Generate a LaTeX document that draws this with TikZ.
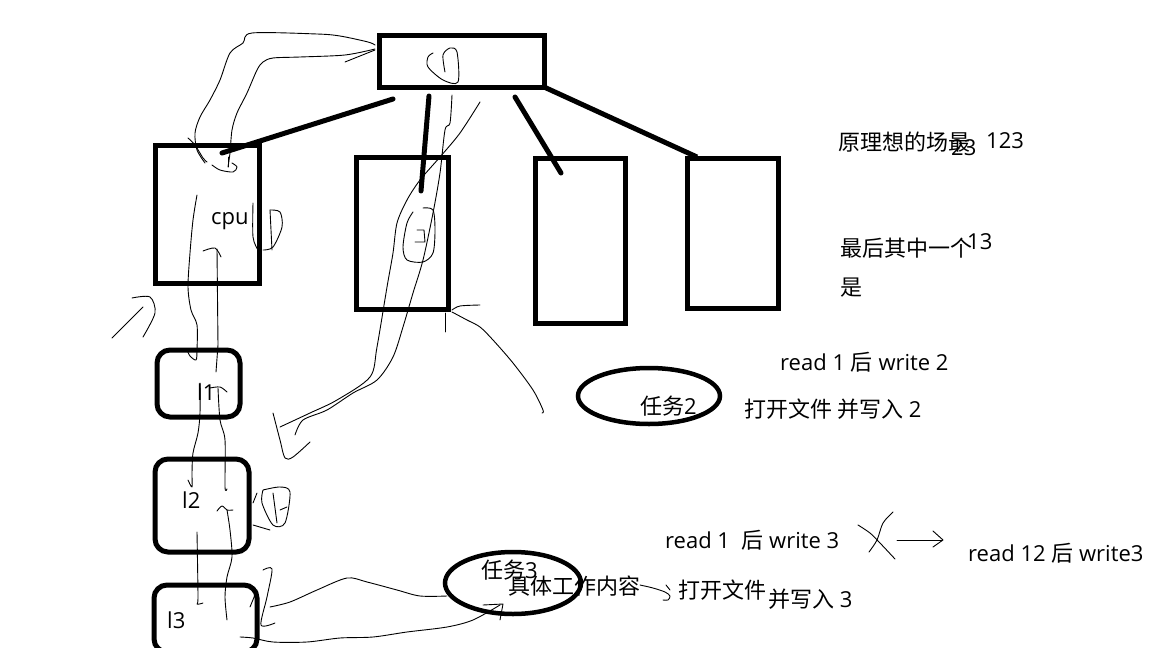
\documentclass[tikz,border=0pt]{standalone}
\usepackage{fontspec}
\setmainfont{Open Sans}
\newfontfamily\cjk{Noto Sans CJK SC}
\begin{document}
\begin{tikzpicture}[x=1pt,y=-1pt,
  box/.style={draw=black,line width=5pt},
  rbox/.style={draw=black,line width=5pt,rounded corners=13pt},
  link/.style={draw=black,line width=5pt,line cap=round},
  oval/.style={draw=black,line width=4.5pt},
  scrib/.style={draw=black,line width=0.9pt,line join=round,line cap=round},
  lab/.style={anchor=west,inner sep=0pt,font=\fontsize{22pt}{25pt}\selectfont}]
\fill[white] (0,0) rectangle (1152,648);
\useasboundingbox (0,0) rectangle (1152,648);

% boxes
\draw[box] (379,35) rectangle (544,87);
\draw[box] (155,145) rectangle (259,283);
\draw[box] (356,157) rectangle (448,309);
\draw[box] (535,158) rectangle (625,323);
\draw[box] (687,158) rectangle (778,308);

% thick connectors
\coordinate (t1) at (393,99); \coordinate (c1) at (222,153);
\coordinate (t2) at (429,96); \coordinate (c2) at (421,191);
\coordinate (t3) at (515,97); \coordinate (c3) at (561,173);
\coordinate (t4) at (544,87); \coordinate (c4) at (697,157);
\draw[link] (t1) -- (c1);
\draw[link] (t2) -- (c2);
\draw[link] (t3) -- (c3);
\draw[link,line cap=butt] (t4) -- (c4);

% rounded boxes
\draw[rbox] (157,350) rectangle (240,417);
\draw[rbox] (155,459) rectangle (249,552);
\draw[rbox] (154,585) rectangle (257,652);

% ellipses
\draw[oval] (649,396) ellipse [x radius=71,y radius=28];
\draw[oval] (513,583) ellipse [x radius=68,y radius=31];

% scribbles: top box to cpu
\draw[scrib] plot[smooth] coordinates {(375,45) (368,42) (340,36) (317,34) (252,33) (243,43) (230,53) (220,80) (210,100) (200,117) (195,133) (197,150) (205,163)};
\draw[scrib] plot[smooth] coordinates {(375,49) (345,55) (300,57) (273,58) (263,62) (257,70) (247,93) (237,113) (232,130) (230,153) (228,167)};
\draw[scrib] (345,62) -- (375,50);
\draw[scrib] plot[smooth] coordinates {(188,138) (195,145) (203,158) (207,162)};
\draw[scrib] plot[smooth] coordinates {(212,165) (220,170) (233,172) (237,167) (232,163)};
\draw[scrib] (228,157) -- (228,167);
% top box glyph
\draw[scrib] plot[smooth] coordinates {(433,53) (428,57) (428,67) (443,80) (458,82) (457,52) (450,48) (443,55) (445,72)};

% cpu down to l1
\draw[scrib] plot[smooth] coordinates {(197,195) (193,220) (190,253) (188,287) (191,310) (197,325) (197,350) (196,360) (190,356) (187,350)};
\draw[scrib] plot[smooth] coordinates {(203,251) (215,248) (221,257)};
\draw[scrib] (217,249) -- (218,345) -- (216,372);
% right of cpu
\draw[scrib] plot[smooth] coordinates {(253,203) (253,237) (258,250)};
\draw[scrib] plot[smooth] coordinates {(270,210) (280,212) (282,227) (273,247) (263,250)};
\draw[scrib] (270,210) -- (272,250);
% left small scribble
\draw[scrib] plot[smooth] coordinates {(112,338) (120,330) (143,307)};
\draw[scrib] plot[smooth] coordinates {(132,298) (150,297) (155,313) (143,337)};

% l1 to l2
\draw[scrib] plot[smooth] coordinates {(200,383) (200,413) (198,433) (193,453) (192,473) (192,487) (188,480)};
\draw[scrib] plot[smooth] coordinates {(210,388) (220,387) (227,392)};
\draw[scrib] plot[smooth] coordinates {(218,388) (220,420) (225,440) (225,487) (227,489)};
% l2 to l3
\draw[scrib] plot[smooth] coordinates {(217,511) (222,506) (227,510) (233,510)};
\draw[scrib] plot[smooth] coordinates {(227,510) (230,530) (232,557) (227,577) (225,597) (227,620)};
\draw[scrib] plot[smooth] coordinates {(197,532) (198,597) (197,604) (203,603)};
% right of l2
\draw[scrib] (257,493) -- (253,503);
\draw[scrib] plot[smooth] coordinates {(263,490) (280,487) (290,492) (285,523) (273,525) (262,503) (263,490)};
\draw[scrib] (273,493) -- (277,523);
\draw[scrib] (280,510) -- (287,507);
\draw[scrib] (253,525) -- (270,530);

% long strokes from box 2
\draw[scrib] plot[smooth] coordinates {(273,413) (280,440) (285,458) (293,457) (310,442)};
\draw[scrib] plot[smooth] coordinates {(280,427) (310,413) (337,400) (370,377) (377,347) (387,287) (393,253) (397,223) (407,200) (420,180) (440,157) (460,133) (480,102)};
\draw[scrib] plot[smooth] coordinates {(295,435) (303,420) (327,410) (353,393) (377,380) (393,357) (403,327) (413,293) (423,260) (433,213) (440,173) (445,130) (450,123) (452,95)};
\draw[scrib] plot[smooth] coordinates {(413,212) (407,223) (403,247) (407,260) (423,262) (433,253) (435,230) (433,210) (423,208)};
\draw[scrib] (417,230) -- (424,230) -- (425,242) -- (415,242);
\draw[scrib] plot[smooth] coordinates {(452,310) (460,306) (480,305)};
\draw[scrib] plot[smooth] coordinates {(452,312) (467,320) (480,327) (493,340) (513,363) (533,390) (543,410) (542,413)};
\draw[scrib] (445,313) -- (445,332);

% l3 to task 3
\draw[scrib] plot[smooth] coordinates {(263,570) (272,569) (267,597) (261,625) (275,623)};
\draw[scrib] (257,590) -- (250,607);
\draw[scrib] plot[smooth] coordinates {(270,607) (290,602) (317,590) (347,578) (367,582) (397,590) (420,596) (447,596)};
\draw[scrib] plot[smooth] coordinates {(240,637) (253,638) (273,642) (307,642) (340,638) (373,637) (407,632) (447,627) (473,620) (500,605)};
\draw[scrib] (483,605) -- (503,604) -- (500,620);

% brace to "open file"
\draw[scrib] plot[smooth] coordinates {(640,585) (653,588) (665,592) (670,596) (668,600) (663,600)};
\draw[scrib] (666,585) -- (670,590);

% cross and arrow
\draw[scrib] plot[smooth] coordinates {(858,525) (870,533) (880,543) (895,559)};
\draw[scrib] plot[smooth] coordinates {(893,512) (883,523) (877,540) (869,552)};
\draw[scrib] (897,540) -- (942,540);
\draw[scrib] (933,531) -- (943,540) -- (933,547);

% texts
\node[lab] (cput) at (211,221) {cpu};
\node[lab] (l1t) at (197,392) {l1};
\node[lab] (l2t) at (182,500) {l2};
\node[lab] (l3t) at (167,620) {l3};
\node[lab] (ideal) at (838,142) {\cjk 原理想的场最};
\node[lab] (n23) at (951,148) {23};
\node[lab] (n123) at (986,141) {123};
\node[lab] (last) at (840,248) {\cjk 最后其中一个};
\node[lab] (n13) at (967,242) {13};
\node[lab] (is) at (840,288) {\cjk 是};
\node[lab] (rw2) at (780,362) {read 1 {\cjk 后} write 2};
\node[lab] (ow2) at (744,409) {{\cjk 打开文件 并写入} 2};
\node[lab] (task2) at (640,406) {{\cjk 任务}2};
\node[lab] (rw3) at (665,540) {read 1\ \ {\cjk 后} write 3};
\node[lab] (rw12) at (968,553) {read 12 {\cjk 后} write3};
\node[lab] (task3) at (481,570) {{\cjk 任务}3};
\node[lab] (work) at (508,586) {\cjk 具体工作内容};
\node[lab] (open3) at (678,590) {\cjk 打开文件};
\node[lab] (write3) at (768,599) {{\cjk 并写入} 3};
\end{tikzpicture}
\end{document}
